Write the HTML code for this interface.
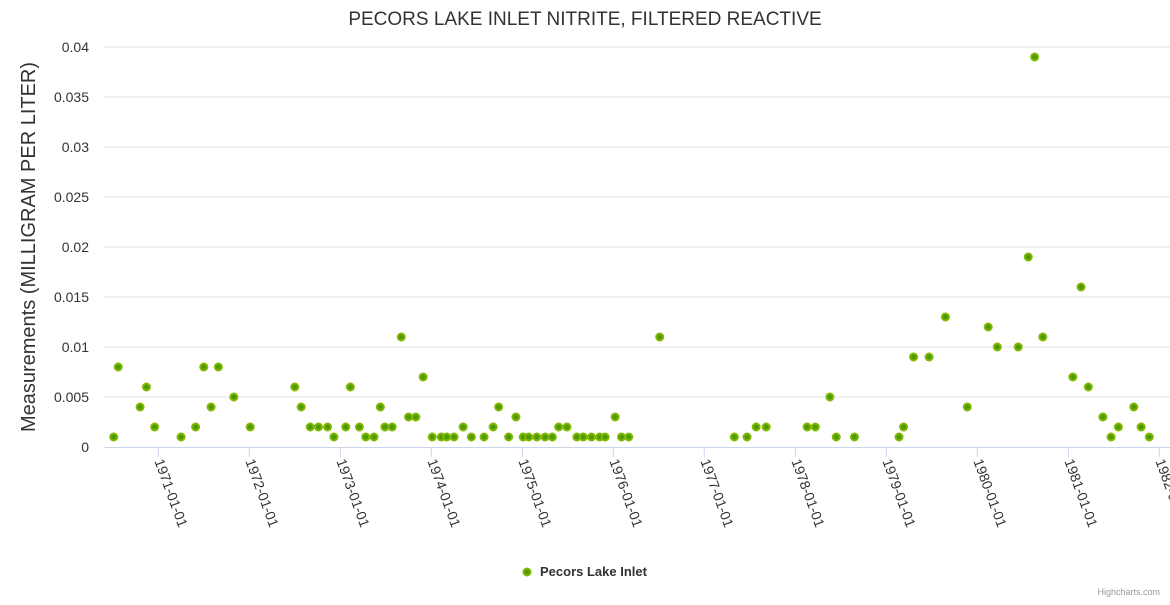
<!DOCTYPE html>
<html><head><meta charset="utf-8"><style>
body{margin:0;background:#fff;font-family:"Liberation Sans",sans-serif;}
svg text{font-family:"Liberation Sans",sans-serif;}
</style></head><body>
<svg id="chart" width="1170" height="600" xmlns="http://www.w3.org/2000/svg">
<text x="585" y="25" text-anchor="middle" font-size="19" fill="#333">PECORS LAKE INLET NITRITE, FILTERED REACTIVE</text>
<text transform="translate(35,247) rotate(-90)" text-anchor="middle" font-size="20" fill="#333">Measurements (MILLIGRAM PER LITER)</text>
<g id="grid"></g><g id="xaxis"></g><g id="points"></g>
<g>
<circle cx="527" cy="572" r="3.5" fill="#4c9a00" stroke="#80b800" stroke-width="2"/>
<text x="540" y="576" font-size="13" font-weight="bold" fill="#333">Pecors Lake Inlet</text></g>
<text x="1160" y="595" text-anchor="end" font-size="9" fill="#999">Highcharts.com</text>
</svg>
<script>
const xYears=[1970.51,1970.56,1970.80,1970.87,1970.96,1971.25,1971.41,1971.50,1971.58,1971.66,1971.83,1972.01,1972.50,1972.57,1972.67,1972.76,1972.86,1972.93,1973.06,1973.11,1973.21,1973.28,1973.37,1973.44,1973.49,1973.57,1973.67,1973.75,1973.83,1973.91,1974.01,1974.11,1974.17,1974.25,1974.35,1974.44,1974.58,1974.68,1974.74,1974.85,1974.93,1975.01,1975.07,1975.16,1975.25,1975.33,1975.40,1975.49,1975.60,1975.67,1975.76,1975.85,1975.91,1976.02,1976.09,1976.17,1976.51,1977.33,1977.47,1977.57,1977.68,1978.13,1978.22,1978.38,1978.45,1978.65,1979.14,1979.19,1979.30,1979.47,1979.65,1979.89,1980.12,1980.22,1980.45,1980.56,1980.63,1980.72,1981.05,1981.14,1981.22,1981.38,1981.47,1981.55,1981.72,1981.80,1981.89];
const values=[0.001,0.008,0.004,0.006,0.002,0.001,0.002,0.008,0.004,0.008,0.005,0.002,0.006,0.004,0.002,0.002,0.002,0.001,0.002,0.006,0.002,0.001,0.001,0.004,0.002,0.002,0.011,0.003,0.003,0.007,0.001,0.001,0.001,0.001,0.002,0.001,0.001,0.002,0.004,0.001,0.003,0.001,0.001,0.001,0.001,0.001,0.002,0.002,0.001,0.001,0.001,0.001,0.001,0.003,0.001,0.001,0.011,0.001,0.001,0.002,0.002,0.002,0.002,0.005,0.001,0.001,0.001,0.002,0.009,0.009,0.013,0.004,0.012,0.010,0.010,0.019,0.039,0.011,0.007,0.016,0.006,0.003,0.001,0.002,0.004,0.002,0.001];
const yTicks=[0,0.005,0.01,0.015,0.02,0.025,0.03,0.035,0.04];
const xTicks=[1971,1972,1973,1974,1975,1976,1977,1978,1979,1980,1981,1982];
const NS='http://www.w3.org/2000/svg';
const X=v=>158.3+(v-1971)*91.0;
const Y=v=>447-v*10000;
function mk(t,a,p){const e=document.createElementNS(NS,t);for(const k in a)e.setAttribute(k,a[k]);p.appendChild(e);return e;}
const grid=document.getElementById('grid');
yTicks.forEach(v=>{
  if(v>0){const l=mk('line',{x1:104,x2:1170,y1:Y(v),y2:Y(v),stroke:'#e6e6e6'},grid);
  
  }
  const t=mk('text',{x:89,y:Y(v)+5,'text-anchor':'end','font-size':'14',fill:'#333'},grid);
  t.textContent=String(v);
  
  
});
const xa=document.getElementById('xaxis');
const ax=mk('line',{x1:104,x2:1170,y1:447.5,y2:447.5,stroke:'#ccd6eb'},xa);


xTicks.forEach(y=>{
  const x=X(y);
  mk('line',{x1:x,x2:x,y1:447,y2:457,stroke:'#ccd6eb'},xa);
  const t=mk('text',{x:x-4,y:461,'font-size':'14',fill:'#333',transform:`rotate(70 ${x-4} 461)`},xa);
  t.textContent=y+'-01-01';
  
  
});
const pts=document.getElementById('points');
xYears.forEach((d,i)=>{
  const c=mk('circle',{cx:X(d),cy:Y(values[i]),r:3.5,fill:'#4c9a00',stroke:'#80b800','stroke-width':2},pts);
  
  
});
</script>
</body></html>
